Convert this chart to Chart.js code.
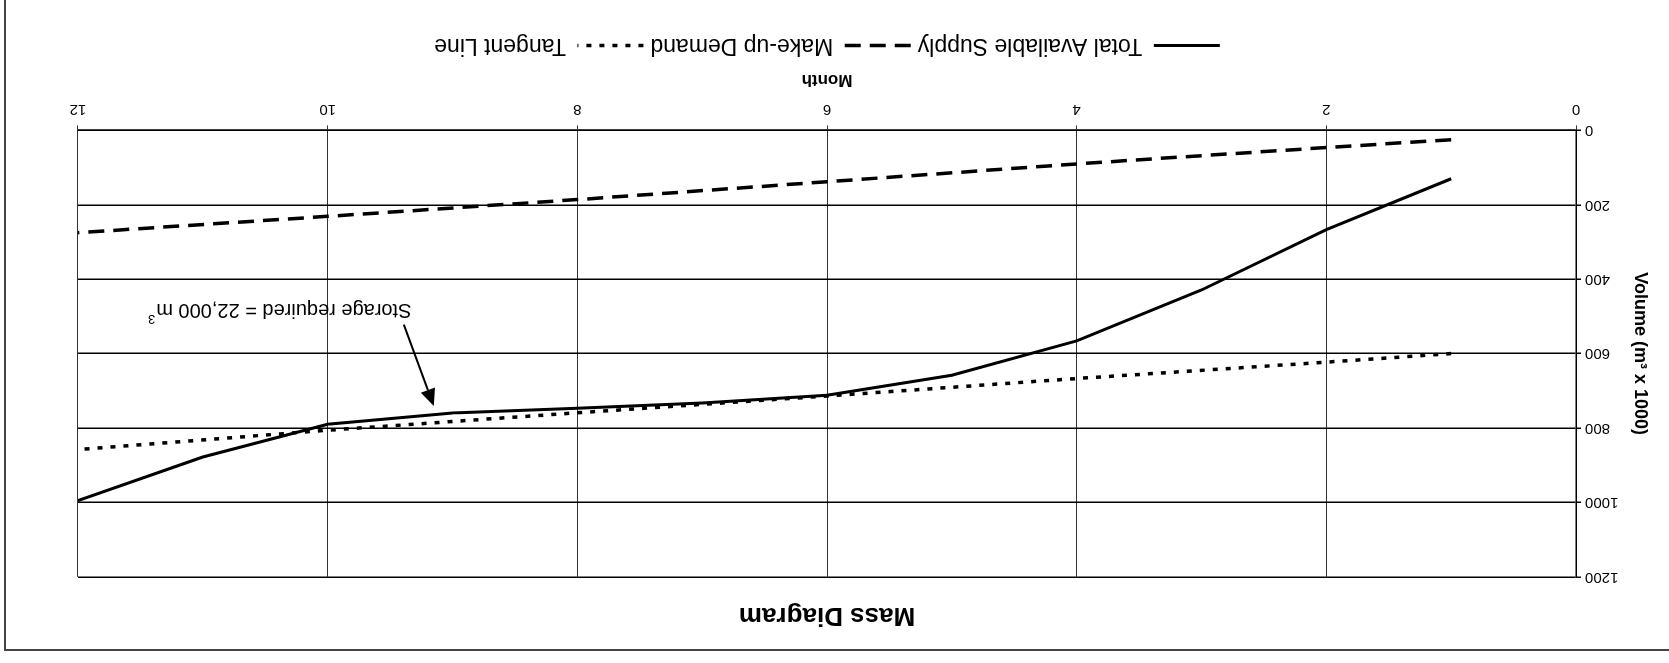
<!DOCTYPE html>
<html>
<head>
<meta charset="utf-8">
<title>Mass Diagram</title>
<script src="https://cdn.jsdelivr.net/npm/chart.js@4.4.0/dist/chart.umd.min.js"></script>
<style>
  html, body { margin: 0; padding: 0; background: #fff; }
  /* the reference is printed upside down */
  #wrap { width: 1669px; height: 663px; transform: rotate(180deg); }
</style>
</head>
<body>
<div id="wrap"><canvas id="massChart" width="1669" height="663"></canvas></div>
<script>
// values (volume in m3 x 1000)
const supplyMonths = [1, 2, 3, 4, 5, 6, 7, 8, 9, 10, 11, 12];
const supplyVolume = [130, 267, 429, 566, 658, 712, 733, 747, 760, 790, 878, 995];
const demandMonths = [1, 2, 4, 6, 8, 10, 12];
const demandVolume = [25, 46, 90, 138, 186, 231, 275];
const tangentMonths = [1, 2, 4, 6, 8, 10, 12];
const tangentVolume = [600, 623, 667, 714, 759, 806, 858];
const monthTicks = [0, 2, 4, 6, 8, 10, 12];
const volumeTicks = [0, 200, 400, 600, 800, 1000, 1200];

// callout: text anchor and arrow, in month / volume units
const noteText = 'Storage required = 22,000 m';
const noteSup = '3';
const noteAt = [10.38, 481];
const arrowFrom = [9.39, 522];
const arrowTo = [9.15, 741];

const FONT = "'Liberation Sans', Arial, sans-serif";
Chart.defaults.font.family = FONT;
Chart.defaults.color = '#000';

const toPoints = (xs, ys) => xs.map((x, i) => ({ x: x, y: ys[i] }));

const notePlugin = {
  id: 'note',
  afterDatasetsDraw(chart) {
    const { ctx, scales: { x, y } } = chart;
    ctx.save();
    const cx = x.getPixelForValue(noteAt[0]);
    const cy = y.getPixelForValue(noteAt[1]);
    ctx.font = '20px ' + FONT;
    const w1 = ctx.measureText(noteText).width;
    ctx.font = '13px ' + FONT;
    const w2 = ctx.measureText(noteSup).width;
    const left = cx - (w1 + w2) / 2;
    ctx.fillStyle = '#000';
    ctx.textBaseline = 'middle';
    ctx.textAlign = 'left';
    ctx.font = '20px ' + FONT;
    ctx.fillText(noteText, left, cy);
    ctx.font = '13px ' + FONT;
    ctx.fillText(noteSup, left + w1 + 1, cy - 9);

    // arrow pointing at the supply curve
    const x0 = x.getPixelForValue(arrowFrom[0]), y0 = y.getPixelForValue(arrowFrom[1]);
    const x1 = x.getPixelForValue(arrowTo[0]), y1 = y.getPixelForValue(arrowTo[1]);
    const ang = Math.atan2(y1 - y0, x1 - x0);
    const headLen = 17, headHalf = 7.5;
    const bx = x1 - Math.cos(ang) * headLen, by = y1 - Math.sin(ang) * headLen;
    ctx.strokeStyle = '#000';
    ctx.lineWidth = 2;
    ctx.beginPath();
    ctx.moveTo(x0, y0);
    ctx.lineTo(bx, by);
    ctx.stroke();
    ctx.beginPath();
    ctx.moveTo(x1, y1);
    ctx.lineTo(bx + Math.sin(ang) * headHalf, by - Math.cos(ang) * headHalf);
    ctx.lineTo(bx - Math.sin(ang) * headHalf, by + Math.cos(ang) * headHalf);
    ctx.closePath();
    ctx.fill();
    ctx.restore();
  }
};

// outer chart frame (only two sides are inside the picture)
const framePlugin = {
  id: 'frame',
  beforeDraw(chart) {
    const { ctx, width, height } = chart;
    ctx.save();
    ctx.strokeStyle = '#444';
    ctx.lineWidth = 2;
    ctx.beginPath();
    ctx.moveTo(0, 13);
    ctx.lineTo(width - 5, 13);
    ctx.lineTo(width - 5, height);
    ctx.stroke();
    ctx.restore();
  }
};

new Chart(document.getElementById('massChart'), {
  type: 'line',
  data: {
    datasets: [
      {
        label: 'Total Available Supply',
        data: toPoints(supplyMonths, supplyVolume),
        borderColor: '#000',
        borderWidth: 3,
        pointRadius: 0,
        tension: 0,
        fill: false
      },
      {
        label: 'Make-up Demand',
        data: toPoints(demandMonths, demandVolume),
        borderColor: '#000',
        borderWidth: 3.5,
        borderDash: [16, 9],
        pointRadius: 0,
        tension: 0,
        fill: false
      },
      {
        label: 'Tangent Line',
        data: toPoints(tangentMonths, tangentVolume),
        borderColor: '#000',
        borderWidth: 3.5,
        borderDash: [5, 8],
        pointRadius: 0,
        tension: 0,
        fill: false
      }
    ]
  },
  options: {
    responsive: false,
    animation: false,
    layout: { padding: { left: 14, right: 78, top: 12, bottom: 24 } },
    plugins: {
      title: {
        display: true,
        text: 'Mass Diagram',
        fullSize: false,
        color: '#000',
        font: { size: 26, weight: 'bold' },
        padding: { top: 20, bottom: 23 }
      },
      legend: {
        position: 'bottom',
        fullSize: false,
        labels: {
          usePointStyle: true,
          pointStyle: 'line',
          pointStyleWidth: 66,
          color: '#000',
          font: { size: 23 },
          padding: 7,
          generateLabels: chart => chart.data.datasets.map((ds, i) => ({
            text: ds.label,
            fillStyle: ds.borderColor,
            strokeStyle: ds.borderColor,
            fontColor: '#000',
            lineWidth: ds.borderWidth,
            lineDash: ds.borderDash || [],
            lineCap: 'butt',
            pointStyle: 'line',
            hidden: false,
            datasetIndex: i
          }))
        }
      },
      tooltip: { enabled: false }
    },
    scales: {
      x: {
        type: 'linear',
        min: monthTicks[0],
        max: monthTicks[monthTicks.length - 1],
        afterBuildTicks: s => { s.ticks = monthTicks.map(v => ({ value: v })); },
        ticks: { font: { size: 15 }, color: '#000', padding: 7, callback: v => String(v) },
        grid: { color: '#333', lineWidth: 1, tickLength: 5 },
        border: { color: '#000', width: 1.5 },
        title: {
          display: true,
          text: 'Month',
          color: '#000',
          font: { size: 17, weight: 'bold' },
          padding: { top: 4, bottom: 5 }
        }
      },
      y: {
        type: 'linear',
        min: volumeTicks[0],
        max: volumeTicks[volumeTicks.length - 1],
        afterBuildTicks: s => { s.ticks = volumeTicks.map(v => ({ value: v })); },
        ticks: { font: { size: 15 }, color: '#000', padding: 4, callback: v => String(v) },
        grid: { color: '#000', lineWidth: 1.5, tickLength: 5 },
        border: { color: '#000', width: 1.5 },
        title: {
          display: true,
          text: 'Volume (m³ x 1000)',
          color: '#000',
          font: { size: 18, weight: 'bold' },
          padding: { top: 4, bottom: 7 }
        }
      }
    }
  },
  plugins: [notePlugin, framePlugin]
});
</script>
</body>
</html>
